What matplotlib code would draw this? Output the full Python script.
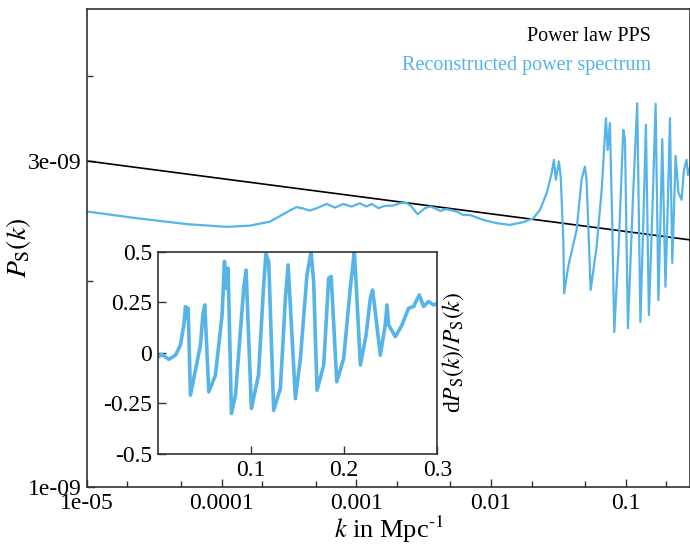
import numpy as np
import matplotlib
matplotlib.use('Agg')
import matplotlib.pyplot as plt
from matplotlib.ticker import FixedLocator, NullFormatter

plt.rcParams['font.family'] = ['Liberation Serif', 'DejaVu Serif']
plt.rcParams['mathtext.fontset'] = 'stix'
plt.rcParams['axes.unicode_minus'] = False

# power law PPS (straight line in log-log, end points)
k_pl = [1e-5, 0.3]
P_pl = [3.0e-9, 2.30e-9]

# reconstructed power spectrum
k_rec = [1.0e-5, 2.35e-5, 5.53e-5, 1.09e-4, 1.62e-4, 2.28e-4, 3.05e-4, 3.58e-4,
         3.95e-4, 4.50e-4, 5.10e-4, 6.02e-4, 6.94e-4, 7.99e-4, 9.23e-4, 1.06e-3,
         1.19e-3, 1.30e-3, 1.46e-3, 1.63e-3, 1.88e-3, 2.11e-3, 2.36e-3, 2.57e-3,
         2.85e-3, 3.23e-3, 3.52e-3, 3.83e-3, 4.18e-3, 4.68e-3, 5.56e-3, 6.22e-3,
         6.97e-3, 8.75e-3, 1.10e-2, 1.38e-2, 1.73e-2, 2.06e-2, 2.31e-2, 2.59e-2,
         2.82e-2, 2.93e-2, 3.03e-2, 3.19e-2, 3.29e-2, 3.44e-2, 3.49e-2, 3.74e-2,
         4.32e-2, 4.70e-2, 4.97e-2, 5.12e-2, 5.49e-2, 6.08e-2, 6.63e-2, 7.13e-2,
         7.34e-2, 7.63e-2, 7.94e-2, 8.22e-2, 8.91e-2, 9.59e-2, 9.87e-2, 0.1038,
         0.1130, 0.1217, 0.1285, 0.1353, 0.1412, 0.1486, 0.1578, 0.1667, 0.1749,
         0.1811, 0.1867, 0.1972, 0.2058, 0.2130, 0.2215, 0.2280, 0.2346, 0.2460,
         0.2600, 0.2704, 0.2832, 0.2897, 0.300]
P_rec = [2.530, 2.474, 2.425, 2.403, 2.413, 2.445, 2.525, 2.568,
         2.559, 2.538, 2.559, 2.596, 2.564, 2.596, 2.573, 2.602,
         2.573, 2.596, 2.559, 2.579, 2.582, 2.602, 2.605, 2.573,
         2.507, 2.559, 2.573, 2.559, 2.536, 2.551, 2.530, 2.501,
         2.501, 2.460, 2.433, 2.419, 2.441, 2.474, 2.545, 2.692,
         2.880, 3.012, 2.816, 2.995, 2.847, 2.300, 1.921, 2.102,
         2.378, 2.816, 2.944, 2.816, 1.943, 2.248, 2.722, 3.466,
         3.114, 3.408, 2.436, 1.686, 2.300, 3.332, 3.221, 1.709,
         2.632, 3.643, 1.744, 2.460, 3.388, 1.786, 2.545, 3.637, 1.878,
         2.460, 3.229, 1.963, 2.632, 3.466, 2.128, 2.545, 3.052, 2.700,
         2.632, 2.912, 3.012, 2.863, 2.931]
P_rec = [p * 1e-9 for p in P_rec]

# relative difference
k_ins = [0.001, 0.004, 0.0064, 0.0118, 0.019, 0.0243, 0.0279, 0.0297, 0.0315, 0.0326,
         0.035, 0.0386, 0.0458, 0.0483, 0.0504, 0.0547, 0.0618, 0.069, 0.0715, 0.0733,
         0.0754, 0.079, 0.0833, 0.0922, 0.0947, 0.1004, 0.108, 0.1136, 0.116, 0.119,
         0.1243, 0.1315, 0.1369, 0.1398, 0.1476, 0.153, 0.160, 0.1644, 0.1672, 0.1708,
         0.178, 0.1833, 0.186, 0.192, 0.1994, 0.2065, 0.2108, 0.2119, 0.2173, 0.2234,
         0.228, 0.2304, 0.2333, 0.2387, 0.244, 0.2459, 0.2476, 0.2548, 0.262, 0.269,
         0.2744, 0.2805, 0.2851, 0.2905, 0.2958, 0.3005]
d_ins = [-0.019, -0.007, -0.014, -0.032, -0.011, 0.039, 0.138, 0.229, 0.171, 0.221,
         -0.209, -0.126, 0.039, 0.188, 0.237, -0.193, -0.11, 0.188, 0.452, 0.32,
         0.419, -0.30, -0.209, 0.32, 0.41, -0.275, -0.11, 0.336, 0.49, 0.45,
         -0.284, -0.176, 0.27, 0.435, -0.226, -0.027, 0.386, 0.5, 0.353, -0.185,
         -0.06, 0.37, 0.378, -0.143, -0.027, 0.32, 0.5, 0.419, -0.06, 0.088,
         0.27, 0.311, 0.204, -0.011, 0.138, 0.237, 0.138, 0.08, 0.138, 0.221,
         0.229, 0.287, 0.229, 0.254, 0.237, 0.245]

blue = '#56b4e9'
spine = '#333333'

fig = plt.figure(figsize=(6.9, 5.45), dpi=100)
ax = fig.add_axes([0.126, 0.106, 0.874, 0.877])
ax.plot(k_pl, P_pl, color='black', lw=1.2, label='Power law PPS')
ax.plot(k_rec, P_rec, color=blue, lw=1.6, label='Reconstructed power spectrum')
ax.set_xscale('log')
ax.set_yscale('log')
ax.set_xlim(1e-5, 0.3)
ax.set_ylim(1e-9, 5e-9)

ax.xaxis.set_major_locator(FixedLocator([1e-5, 1e-4, 1e-3, 1e-2, 1e-1]))
ax.set_xticklabels(['1e-05', '0.0001', '0.001', '0.01', '0.1'])
ax.xaxis.set_minor_locator(FixedLocator([m * 10.0**e for e in range(-5, 0) for m in (2, 5)]))
ax.xaxis.set_minor_formatter(NullFormatter())
ax.yaxis.set_major_locator(FixedLocator([1e-9, 3e-9]))
ax.set_yticklabels(['1e-09', '3e-09'])
ax.yaxis.set_minor_locator(FixedLocator([2e-9, 4e-9]))
ax.yaxis.set_minor_formatter(NullFormatter())
ax.tick_params(which='both', direction='in', labelsize=17, color=spine, pad=4)
ax.tick_params(which='major', length=6, width=1)
ax.tick_params(which='minor', length=4, width=1)
for s in ax.spines.values():
    s.set_color(spine)
    s.set_linewidth(1.2)
ax.set_xlabel(r'$k$ in Mpc$^{\text{-1}}$', fontsize=19, labelpad=0)
ax.set_ylabel(r'$P_{\rm S}(k)$', fontsize=20)
ax.yaxis.set_label_coords(-0.089, 0.5)

leg = ax.legend(loc='upper right', bbox_to_anchor=(0.966, 1.0), frameon=False,
                handlelength=0, handletextpad=0, markerfirst=False,
                labelcolor='linecolor', fontsize=14.5, labelspacing=0.45)
for h in leg.legend_handles:
    h.set_visible(False)

ins = fig.add_axes([0.2287, 0.167, 0.4053, 0.371])
ins.plot(k_ins, d_ins, color=blue, lw=2.6)
ins.set_xlim(0, 0.3)
ins.set_ylim(-0.5, 0.5)
ins.set_xticks([0.1, 0.2, 0.3])
ins.set_xticklabels(['0.1', '0.2', '0.3'])
ins.set_yticks([-0.5, -0.25, 0, 0.25, 0.5])
ins.set_yticklabels(['-0.5', '-0.25', '0', '0.25', '0.5'])
ins.tick_params(direction='in', labelsize=17, length=6, width=1, color=spine, pad=4)
for s in ins.spines.values():
    s.set_color(spine)
    s.set_linewidth(1.2)
ins.yaxis.set_label_position('right')
ins.set_ylabel(r'd$P_{\rm S}(k)/P_{\rm S}(k)$', fontsize=17, labelpad=2)

fig.savefig('out.png', dpi=100)
